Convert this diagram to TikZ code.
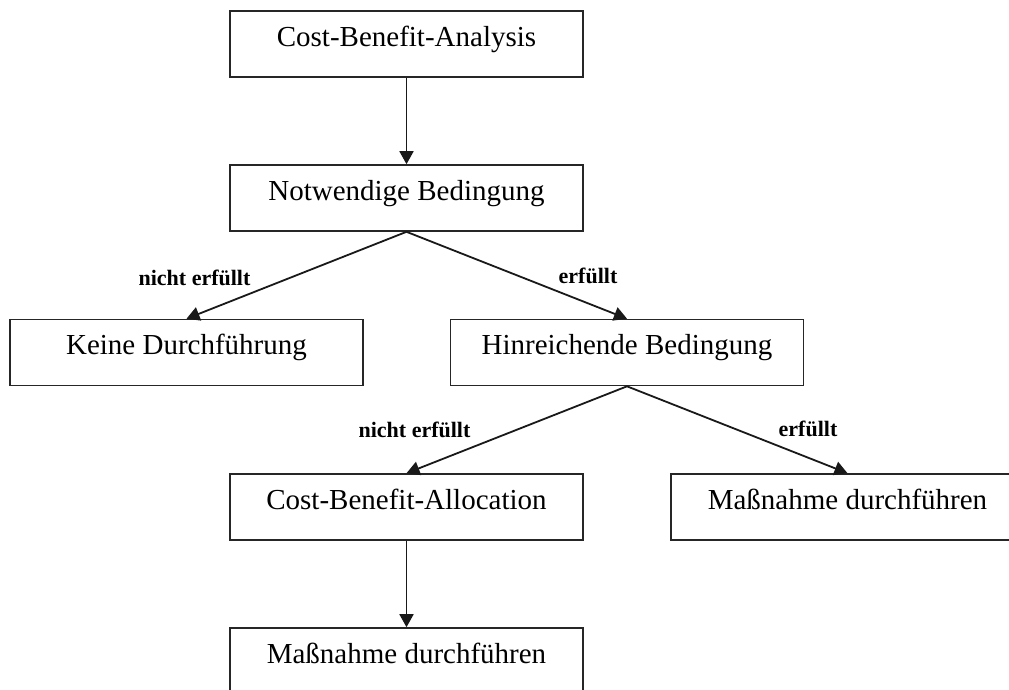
\documentclass[tikz,border=0pt]{standalone}
\usepackage{fontspec}
\setmainfont{Liberation Serif}
\usetikzlibrary{arrows.meta}
\begin{document}
\begin{tikzpicture}[x=1pt,y=-1pt,
  box/.style={draw=black!85, line width=1.6pt, rectangle, inner sep=0pt,
    minimum width=353pt, minimum height=66pt,
    text height=20pt, text depth=16pt,
    font=\fontsize{29}{34}\selectfont},
  cond/.style={anchor=base, inner sep=0pt, font=\fontsize{22}{26}\selectfont\bfseries},
  flow/.style={draw=black!90, line width=1.8pt, -{Triangle[length=13pt,width=14pt]}}]
  \useasboundingbox (0,0) rectangle (1009,689);
  \clip (0,0) rectangle (1009,689);

  % decision boxes
  \node[box] (cba)  at (406.5,44)   {Cost-Benefit-Analysis};
  \node[box] (notw) at (406.5,198)  {Notwendige Bedingung};
  \node[box] (kein) at (186.5,352.5){Keine Durchführung};
  \node[box] (hinr) at (627,352.5)  {Hinreichende Bedingung};
  \node[box] (cbal) at (406.5,507)  {Cost-Benefit-Allocation};
  \node[box] (massr) at (847.5,507) {Maßnahme durchführen};
  \node[box] (massu) at (406.5,661) {Maßnahme durchführen};

  % connectors
  \draw[flow] (cba.south) -- (notw.north);
  \draw[flow] (notw.south) -- (kein.north);
  \draw[flow] (notw.south) -- (hinr.north);
  \draw[flow] (hinr.south) -- (cbal.north);
  \draw[flow] (hinr.south) -- (massr.north);
  \draw[flow] (cbal.south) -- (massu.north);

  % branch labels
  \node[cond] (l1) at (194.5,285) {nicht erfüllt};
  \node[cond] (l2) at (588,283)   {erfüllt};
  \node[cond] (l3) at (414.5,437) {nicht erfüllt};
  \node[cond] (l4) at (808,436)   {erfüllt};
\end{tikzpicture}
\end{document}
